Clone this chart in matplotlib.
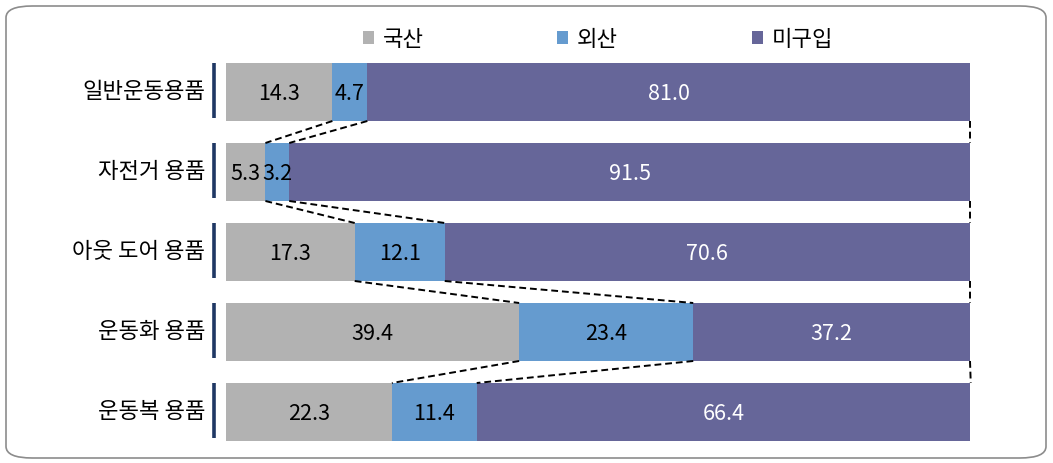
import matplotlib.pyplot as plt
from matplotlib.patches import FancyBboxPatch, Patch
from matplotlib.transforms import blended_transform_factory

plt.rcParams['font.family'] = ['Noto Sans CJK KR', 'DejaVu Sans']

categories = ["일반운동용품", "자전거 용품", "아웃 도어 용품", "운동화 용품", "운동복 용품"]
domestic = [14.3, 5.3, 17.3, 39.4, 22.3]
foreign = [4.7, 3.2, 12.1, 23.4, 11.4]
none_bought = [81.0, 91.5, 70.6, 37.2, 66.4]
series_names = ["국산", "외산", "미구입"]
colors = ["#B2B2B2", "#659BCF", "#666699"]
text_colors = ["black", "black", "white"]

W, H = 1053, 463
fig = plt.figure(figsize=(W / 100, H / 100), dpi=100)

# rounded frame
frame = FancyBboxPatch((6 / W, 5 / H), 1040 / W, 452 / H,
                       boxstyle="round,pad=0,rounding_size=0.025",
                       transform=fig.transFigure, fill=False,
                       edgecolor="#8C8C8C", linewidth=1.2)
fig.patches.append(frame)

ax = fig.add_axes([226 / W, (H - 452) / H, 744 / W, 400 / H])
ax.set_xlim(0, 100)
ax.set_ylim(4.5, -0.5)
ax.axis("off")

bar_h = 0.725
ypos = list(range(len(categories)))
series = [domestic, foreign, none_bought]
lefts = [0.0] * len(categories)
for vals, col, tcol in zip(series, colors, text_colors):
    ax.barh(ypos, vals, left=lefts, height=bar_h, color=col, edgecolor="none")
    for y, l, v in zip(ypos, lefts, vals):
        ax.text(l + v / 2, y + 0.03, f"{v:.1f}", ha="center", va="center",
                fontsize=15.5, color=tcol)
    lefts = [l + v for l, v in zip(lefts, vals)]

# dashed connectors between bars
cum1 = domestic
cum2 = [d + f for d, f in zip(domestic, foreign)]
cum3 = [d + f + n for d, f, n in zip(domestic, foreign, none_bought)]
for i in range(len(categories) - 1):
    for c in (cum1, cum2, cum3):
        ax.plot([c[i], c[i + 1]], [i + bar_h / 2, i + 1 - bar_h / 2],
                color="black", linestyle=(0, (3.5, 2)), linewidth=1.4,
                clip_on=False)

# category labels and left tick marks
trans = blended_transform_factory(ax.transAxes, ax.transData)
for y, name in zip(ypos, categories):
    ax.plot([-0.0165, -0.0165], [y - 0.36, y + 0.33], color="#1F3864",
            linewidth=2.6, transform=trans, clip_on=False,
            solid_capstyle="butt")
    ax.text(-0.028, y, name, ha="right", va="center", fontsize=16,
            transform=trans)

handles = [Patch(facecolor=c, edgecolor="none") for c in colors]
fig.legend(handles, series_names, ncol=3, loc="center",
           bbox_to_anchor=(598 / W, 1 - 39 / H), frameon=False,
           fontsize=16, handlelength=0.5, handleheight=0.5,
           handletextpad=0.4, columnspacing=6.0)

fig.savefig("out.png", dpi=100)
